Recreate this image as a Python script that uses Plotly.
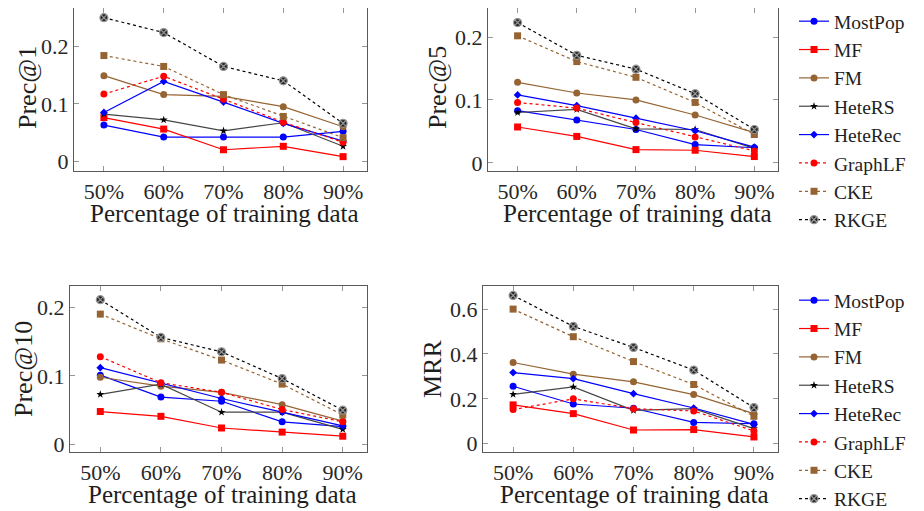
import plotly.graph_objects as go

x_labels = ["50%", "60%", "70%", "80%", "90%"]
methods = ["MostPop", "MF", "FM", "HeteRS", "HeteRec", "GraphLF", "CKE", "RKGE"]

prec1 = {
    "MostPop": [0.063, 0.042, 0.042, 0.042, 0.052],
    "MF":      [0.076, 0.056, 0.020, 0.026, 0.008],
    "FM":      [0.149, 0.116, 0.113, 0.095, 0.060],
    "HeteRS":  [0.082, 0.072, 0.053, 0.067, 0.026],
    "HeteRec": [0.085, 0.139, 0.103, 0.066, 0.035],
    "GraphLF": [0.117, 0.148, 0.108, 0.068, 0.033],
    "CKE":     [0.184, 0.165, 0.116, 0.078, 0.041],
    "RKGE":    [0.250, 0.224, 0.165, 0.140, 0.066],
}
prec5 = {
    "MostPop": [0.083, 0.068, 0.053, 0.029, 0.024],
    "MF":      [0.057, 0.042, 0.021, 0.020, 0.010],
    "FM":      [0.128, 0.111, 0.100, 0.076, 0.048],
    "HeteRS":  [0.080, 0.085, 0.054, 0.053, 0.023],
    "HeteRec": [0.108, 0.091, 0.071, 0.051, 0.025],
    "GraphLF": [0.096, 0.087, 0.064, 0.041, 0.019],
    "CKE":     [0.202, 0.161, 0.136, 0.096, 0.045],
    "RKGE":    [0.223, 0.171, 0.149, 0.110, 0.053],
}
prec10 = {
    "MostPop": [0.101, 0.069, 0.063, 0.033, 0.026],
    "MF":      [0.048, 0.041, 0.024, 0.018, 0.012],
    "FM":      [0.098, 0.085, 0.076, 0.058, 0.034],
    "HeteRS":  [0.073, 0.088, 0.047, 0.047, 0.022],
    "HeteRec": [0.112, 0.089, 0.067, 0.047, 0.027],
    "GraphLF": [0.128, 0.090, 0.076, 0.051, 0.033],
    "CKE":     [0.190, 0.154, 0.123, 0.088, 0.043],
    "RKGE":    [0.211, 0.156, 0.135, 0.096, 0.050],
}
mrr = {
    "MostPop": [0.256, 0.177, 0.158, 0.095, 0.089],
    "MF":      [0.173, 0.134, 0.061, 0.063, 0.030],
    "FM":      [0.362, 0.310, 0.276, 0.219, 0.134],
    "HeteRS":  [0.220, 0.253, 0.149, 0.156, 0.067],
    "HeteRec": [0.317, 0.290, 0.223, 0.159, 0.086],
    "GraphLF": [0.152, 0.200, 0.156, 0.146, 0.057],
    "CKE":     [0.600, 0.477, 0.366, 0.264, 0.122],
    "RKGE":    [0.661, 0.523, 0.429, 0.328, 0.161],
}

panels = [
    ("Prec@1", prec1, [0, 0.1, 0.2], ["0", "0.1", "0.2"], [-0.017, 0.272]),
    ("Prec@5", prec5, [0, 0.1, 0.2], ["0", "0.1", "0.2"], [-0.013, 0.251]),
    ("Prec@10", prec10, [0, 0.1, 0.2], ["0", "0.1", "0.2"], [-0.011, 0.231]),
    ("MRR", mrr, [0, 0.2, 0.4, 0.6], ["0", "0.2", "0.4", "0.6"], [-0.037, 0.703]),
]

BROWN = "rgb(150,100,50)"
style = {
    "MostPop": dict(color="blue", lc="blue", dash="solid", symbol="circle", size=7),
    "MF":      dict(color="red", lc="red", dash="solid", symbol="square", size=7),
    "FM":      dict(color=BROWN, lc=BROWN, dash="solid", symbol="circle", size=7),
    "HeteRS":  dict(color="black", lc="rgb(70,70,70)", dash="solid", symbol="star", size=6),
    "HeteRec": dict(color="blue", lc="blue", dash="solid", symbol="diamond", size=6),
    "GraphLF": dict(color="red", lc="red", dash="3px,3px", symbol="circle", size=7),
    "CKE":     dict(color=BROWN, lc=BROWN, dash="3px,3px", symbol="square", size=7),
    "RKGE":    dict(color="black", lc="black", dash="3px,3px", symbol="circle-x", size=7),
}

# page body has an 8px margin; lay out in screen pixels, then shift by OFF
OFF = 8
W, H = 924 - OFF, 511 - OFF
boxes = [  # left, right, top, bottom in screen px
    (74, 367, 5, 171),
    (488, 778, 5, 171),
    (70, 367, 286, 452),
    (483, 778, 286, 452),
]
ytitle_x = [27, 437, 23, 432]


def fx(px):
    return (px - OFF) / W


def fy(py):
    return min(1.0, 1 - (py - OFF) / H)


FONT = "Liberation Serif"
fig = go.Figure()
annotations = []
for i, (title, data, tv, tt, yr) in enumerate(panels):
    l, r, t, b = boxes[i]
    # if the box top lies above the visible page, clip it and trim the range to keep scale
    per_px = (yr[1] - yr[0]) / (b - t)
    t_vis = max(t, OFF)
    yr_vis = [yr[0], yr[1] - (t_vis - t) * per_px]
    ax = "" if i == 0 else str(i + 1)
    legend_name = "legend" if i < 2 else "legend2"
    show = i in (0, 2)
    for m in methods:
        s = style[m]
        marker = dict(symbol=s["symbol"], size=s["size"], color=s["color"],
                      line=dict(width=0, color=s["color"]))
        if m == "RKGE":
            marker = dict(symbol="circle-x", size=8, color="rgb(40,40,40)",
                          line=dict(width=1.2, color="rgb(150,150,150)"))
        fig.add_trace(go.Scatter(
            x=list(range(len(x_labels))), y=data[m], name=m,
            mode="lines+markers",
            line=dict(color=s["lc"], width=1.2, dash=s["dash"]),
            marker=marker, cliponaxis=False,
            xaxis="x" + ax, yaxis="y" + ax,
            showlegend=show, legend=legend_name,
        ))
    common = dict(showline=True, linecolor="rgb(90,90,90)", linewidth=1.2, mirror="allticks",
                  ticks="inside", ticklen=5, tickcolor="rgb(150,150,150)", tickwidth=1,
                  showgrid=False, zeroline=False, automargin=False,
                  tickfont=dict(family=FONT, size=22, color="rgb(40,40,40)"))
    fig.update_layout(**{
        "xaxis" + ax: dict(domain=[fx(l), fx(r)], anchor="y" + ax,
                           range=[-0.5, 4.4], tickvals=list(range(5)), ticktext=x_labels,
                           **common),
        "yaxis" + ax: dict(domain=[fy(b), fy(t_vis)], anchor="x" + ax,
                           range=yr_vis, tickvals=tv, ticktext=tt, **common),
    })
    annotations.append(dict(text=title, x=fx(ytitle_x[i]), y=fy((t + b) / 2),
                            xref="paper", yref="paper", showarrow=False, textangle=-90,
                            xanchor="center", yanchor="middle",
                            font=dict(family=FONT, size=26, color="rgb(30,30,30)")))
    annotations.append(dict(text="Percentage of training data", x=fx((l + r) / 2 + 4),
                            y=fy(b + 42), xref="paper", yref="paper", showarrow=False,
                            xanchor="center", yanchor="middle",
                            font=dict(family=FONT, size=25, color="rgb(30,30,30)")))

legend_common = dict(font=dict(family=FONT, size=19.5, color="rgb(30,30,30)"),
                     bgcolor="rgba(0,0,0,0)", borderwidth=0, itemwidth=30,
                     xanchor="left", yanchor="top", tracegroupgap=0)
fig.update_layout(
    width=W, height=H, margin=dict(l=0, r=0, t=0, b=0, autoexpand=False),
    paper_bgcolor="white", plot_bgcolor="white",
    annotations=annotations,
    legend=dict(x=fx(794), y=1 + 6 / H, **legend_common),
    legend2=dict(x=fx(794), y=fy(281), **legend_common),
)
fig.write_html("out.html")
